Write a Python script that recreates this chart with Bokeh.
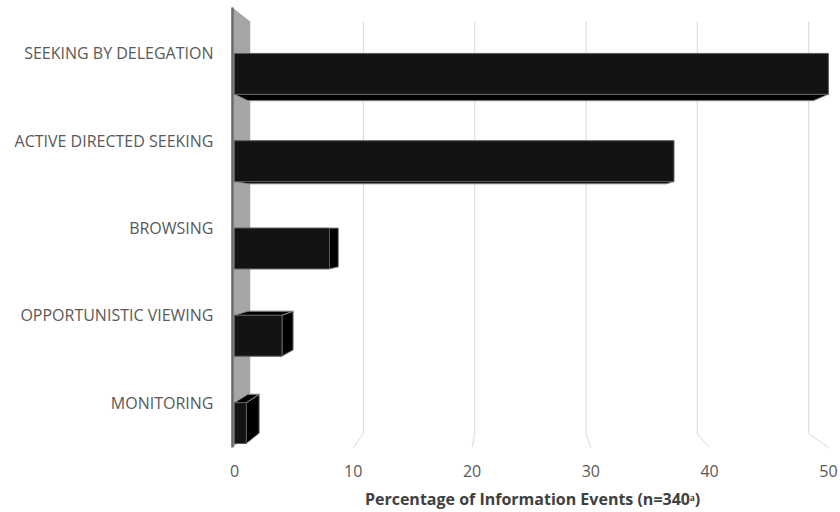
from bokeh.plotting import figure
from bokeh.models import FixedTicker, Range1d
from bokeh.embed import file_html
from bokeh.resources import INLINE

# ---- data ----
categories = ["MONITORING", "OPPORTUNISTIC VIEWING", "BROWSING",
              "ACTIVE DIRECTED SEEKING", "SEEKING BY DELEGATION"]
values = [1, 4, 8, 37, 50]
x_ticks = [0, 10, 20, 30, 40, 50]
x_title = "Percentage of Information Events (n=340\u1d43)"

# ---- geometry / style constants (3-D look) ----
HH = 0.234              # half bar thickness (category units)
VPX, VPY = 23.6, 2.0    # vanishing point (data units)
D_BAR = 0.048
D_WALL = 0.063
WALL_X = -0.17
WALL_TOP, WALL_BOT = 4.526, -0.514
FONT = "Open Sans"


def back(x, y, d):
    return VPX + (x - VPX) * (1 - d), VPY + (y - VPY) * (1 - d)


p = figure(width=840, height=512, output_backend="svg", toolbar_location=None,
           x_range=Range1d(-0.67, 50.85), y_range=Range1d(-0.594, 4.549),
           min_border_left=226, min_border_right=2, min_border_top=5,
           min_border_bottom=57)
p.outline_line_color = None
p.xgrid.visible = False
p.ygrid.visible = False
p.background_fill_color = "white"
p.border_fill_color = "white"

# back wall gridlines (vertical on the back plane, slanting on the floor)
gx, gy = [], []
for t in x_ticks[1:]:
    bx1, by1 = back(t, WALL_TOP, D_WALL)
    bx2, by2 = back(t, WALL_BOT, D_WALL)
    gx.append([bx1, bx2, t])
    gy.append([by1, by2, WALL_BOT])
p.multi_line(gx, gy, line_color="#d9d9d9", line_width=1)

# left side wall
wx = [WALL_X, back(WALL_X, WALL_TOP, D_WALL)[0], back(WALL_X, WALL_BOT, D_WALL)[0], WALL_X]
wy = [WALL_TOP, back(WALL_X, WALL_TOP, D_WALL)[1], back(WALL_X, WALL_BOT, D_WALL)[1], WALL_BOT]
p.patch(wx, wy, fill_color="#a6a6a6", line_color=None)
p.line([WALL_X, WALL_X], [WALL_TOP, WALL_BOT], line_color="#6b6b6b", line_width=2.5)

# bars: side faces first, then front faces
sx, sy = [], []
fx, fy = [], []
for i, v in enumerate(values):
    top = i
    bot = i - 2 * HH
    if v < VPX:  # right face visible
        (ax, ay), (bx, by) = back(v, top, D_BAR), back(v, bot, D_BAR)
        sx.append([v, v, ax, bx])
        sy.append([bot, top, ay, by])
    if top < VPY:  # top face visible
        (ax, ay), (bx, by) = back(v, top, D_BAR), back(0, top, D_BAR)
        sx.append([0, v, ax, bx])
        sy.append([top, top, ay, by])
    if bot > VPY:  # bottom face visible
        (ax, ay), (bx, by) = back(v, bot, D_BAR), back(0, bot, D_BAR)
        sx.append([0, v, ax, bx])
        sy.append([bot, bot, ay, by])
    fx.append([0, v, v, 0])
    fy.append([bot, bot, top, top])

p.patches(sx, sy, fill_color="#000000", line_color="#8a8a8a", line_width=1)
p.patches(fx, fy, fill_color="#131313", line_color="#5a5a5a", line_width=1)

# axes
xa = p.xaxis[0]
xa.ticker = FixedTicker(ticks=x_ticks)
xa.axis_line_color = None
xa.major_tick_line_color = None
xa.minor_tick_line_color = None
xa.major_tick_out = 0
xa.major_tick_in = 0
xa.major_label_standoff = 10
xa.major_label_text_font = FONT
xa.major_label_text_font_size = "16px"
xa.major_label_text_color = "#595959"
xa.axis_label = x_title
xa.axis_label_text_font = FONT
xa.axis_label_text_font_style = "bold"
xa.axis_label_text_font_size = "16px"
xa.axis_label_text_color = "#404040"
xa.axis_label_standoff = 8

ya = p.yaxis[0]
ya.ticker = FixedTicker(ticks=list(range(len(categories))))
ya.major_label_overrides = {i: c for i, c in enumerate(categories)}
ya.axis_line_color = None
ya.major_tick_line_color = None
ya.minor_tick_line_color = None
ya.major_tick_out = 0
ya.major_tick_in = 0
ya.major_label_standoff = 13
ya.major_label_text_font = FONT
ya.major_label_text_font_size = "16px"
ya.major_label_text_color = "#595959"

open("out.html", "w").write(file_html(p, INLINE))
